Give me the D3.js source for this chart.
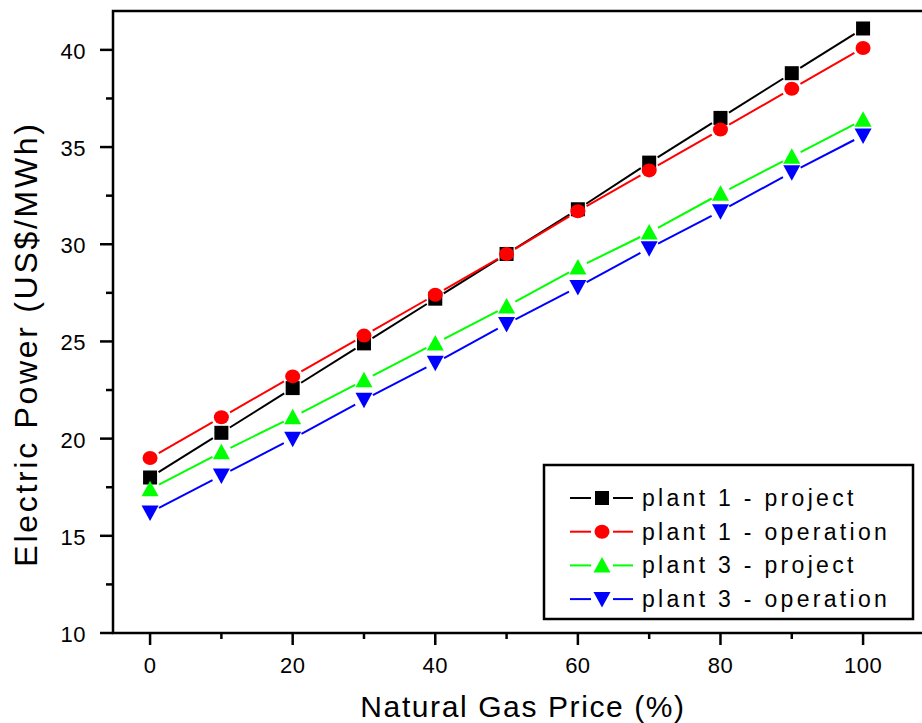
<!DOCTYPE html>
<html>
<head>
<meta charset="utf-8">
<script src="https://cdn.jsdelivr.net/npm/d3@7"></script>
<style>
  body { margin: 0; background: #fff; }
  text { font-family: "Liberation Sans", Arial, sans-serif; fill: #000; }
</style>
</head>
<body>
<div id="chart"></div>
<script>
const width = 922;
const height = 723;

// data
const gasPrice = [0, 10, 20, 30, 40, 50, 60, 70, 80, 90, 100];
const plant1Project = [18.0, 20.3, 22.6, 24.9, 27.2, 29.5, 31.8, 34.2, 36.5, 38.8, 41.1];
const plant1Operation = [19.0, 21.1, 23.2, 25.3, 27.4, 29.5, 31.7, 33.8, 35.9, 38.0, 40.1];
const plant3Project = [17.4, 19.3, 21.1, 23.0, 24.9, 26.8, 28.8, 30.6, 32.6, 34.5, 36.4];
const plant3Operation = [16.2, 18.1, 20.0, 22.0, 23.9, 25.9, 27.8, 29.8, 31.7, 33.7, 35.6];

const seriesNames = ['plant 1 - project', 'plant 1 - operation', 'plant 3 - project', 'plant 3 - operation'];
const seriesColors = ['#000000', '#ff0000', '#00ff00', '#0000ff'];
const seriesSymbols = ['square', 'circle', 'up', 'down'];
const seriesValues = [plant1Project, plant1Operation, plant3Project, plant3Operation];

const xTicks = [0, 20, 40, 60, 80, 100];
const xMinor = [10, 30, 50, 70, 90];
const yTicks = [10, 15, 20, 25, 30, 35, 40];
const yMinor = [12.5, 17.5, 22.5, 27.5, 32.5, 37.5];

const margin = {left: 113, top: 11, right: 933, bottom: 633};

const x = d3.scaleLinear().domain([-5.2, 110]).range([margin.left, margin.left + 7.13 * 115.2]);
const y = d3.scaleLinear().domain([10, 42]).range([margin.bottom, margin.top]);

const svg = d3.select('#chart').append('svg').attr('width', width).attr('height', height);

// frame
svg.append('rect')
    .attr('x', margin.left).attr('y', margin.top)
    .attr('width', margin.right - margin.left).attr('height', margin.bottom - margin.top)
    .attr('fill', 'none').attr('stroke', '#000').attr('stroke-width', 2.5);

// y ticks
svg.selectAll('line.ymajor').data(yTicks).join('line')
    .attr('x1', margin.left - 13).attr('x2', margin.left)
    .attr('y1', d => y(d)).attr('y2', d => y(d))
    .attr('stroke', '#000').attr('stroke-width', 2.5);
svg.selectAll('line.yminor').data(yMinor).join('line')
    .attr('class', 'yminor')
    .attr('x1', margin.left - 7).attr('x2', margin.left)
    .attr('y1', d => y(d)).attr('y2', d => y(d))
    .attr('stroke', '#000').attr('stroke-width', 2.5);
svg.selectAll('text.ytick').data(yTicks).join('text')
    .attr('class', 'ytick')
    .attr('x', 86).attr('y', d => y(d) + 9)
    .attr('text-anchor', 'end')
    .style('font-size', '22px').style('letter-spacing', '0.5px')
    .text(d => d);

// x ticks
svg.selectAll('line.xmajor').data(xTicks).join('line')
    .attr('class', 'xmajor')
    .attr('x1', d => x(d)).attr('x2', d => x(d))
    .attr('y1', margin.bottom).attr('y2', margin.bottom + 12)
    .attr('stroke', '#000').attr('stroke-width', 2.5);
svg.selectAll('line.xminor').data(xMinor).join('line')
    .attr('class', 'xminor')
    .attr('x1', d => x(d)).attr('x2', d => x(d))
    .attr('y1', margin.bottom).attr('y2', margin.bottom + 6)
    .attr('stroke', '#000').attr('stroke-width', 2.5);
svg.selectAll('text.xtick').data(xTicks).join('text')
    .attr('class', 'xtick')
    .attr('x', d => x(d)).attr('y', 673)
    .attr('text-anchor', 'middle')
    .style('font-size', '22px').style('letter-spacing', '0.5px')
    .text(d => d);

// axis titles
svg.append('text')
    .attr('x', 523).attr('y', 717)
    .attr('text-anchor', 'middle')
    .style('font-size', '30px').style('letter-spacing', '1.6px')
    .text('Natural Gas Price (%)');
svg.append('text')
    .attr('transform', 'translate(37,344) rotate(-90)')
    .attr('text-anchor', 'middle')
    .style('font-size', '32px').style('letter-spacing', '2.7px')
    .text('Electric Power (US$/MWh)');

function symbol(g, type, color) {
    if (type === 'square') {
        g.append('rect').attr('x', -7).attr('y', -7).attr('width', 14).attr('height', 14).attr('fill', color);
    } else if (type === 'circle') {
        g.append('ellipse').attr('rx', 7.5).attr('ry', 7).attr('fill', color);
    } else if (type === 'up') {
        g.append('path').attr('d', 'M0,-8.5L8.5,7L-8.5,7Z').attr('fill', color);
    } else {
        g.append('path').attr('d', 'M0,8.5L8.5,-7L-8.5,-7Z').attr('fill', color);
    }
}

// lines with a gap round each symbol, then symbols
const gap = 10;
seriesValues.forEach((vals, s) => {
    const pts = gasPrice.map((g, i) => [x(g), y(vals[i])]);
    const segs = d3.pairs(pts).map(([a, b]) => {
        const dx = b[0] - a[0], dy = b[1] - a[1];
        const len = Math.hypot(dx, dy);
        const ux = dx / len, uy = dy / len;
        return [a[0] + ux * gap, a[1] + uy * gap, b[0] - ux * gap, b[1] - uy * gap];
    });
    svg.append('g').selectAll('line').data(segs).join('line')
        .attr('x1', d => d[0]).attr('y1', d => d[1])
        .attr('x2', d => d[2]).attr('y2', d => d[3])
        .attr('stroke', seriesColors[s]).attr('stroke-width', 2);
});
seriesValues.forEach((vals, s) => {
    gasPrice.forEach((g, i) => {
        const m = svg.append('g').attr('transform', `translate(${[x(g), y(vals[i])]})`);
        symbol(m, seriesSymbols[s], seriesColors[s]);
    });
});

// legend
const legend = svg.append('g');
legend.append('rect')
    .attr('x', 544).attr('y', 465).attr('width', 369).attr('height', 154)
    .attr('fill', '#fff').attr('stroke', '#000').attr('stroke-width', 2.5);
const rows = legend.selectAll('g.row').data(seriesNames).join('g')
    .attr('class', 'row')
    .attr('transform', (d, i) => `translate(0,${498 + i * 33.7})`);
rows.append('line').attr('x1', 570).attr('x2', 591).attr('y1', 0).attr('y2', 0)
    .attr('stroke', (d, i) => seriesColors[i]).attr('stroke-width', 2);
rows.append('line').attr('x1', 613).attr('x2', 633).attr('y1', 0).attr('y2', 0)
    .attr('stroke', (d, i) => seriesColors[i]).attr('stroke-width', 2);
rows.each(function(d, i) {
    const m = d3.select(this).append('g').attr('transform', 'translate(602,0)');
    symbol(m, seriesSymbols[i], seriesColors[i]);
});
rows.append('text')
    .attr('x', 642).attr('y', 8)
    .style('font-size', '23px').style('letter-spacing', '3.3px')
    .text(d => d);
</script>
</body>
</html>
